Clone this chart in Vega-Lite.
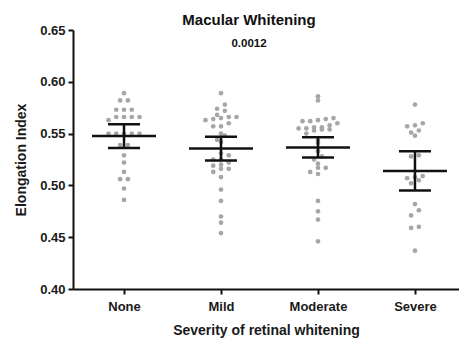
{
  "$schema": "https://vega.github.io/schema/vega-lite/v6.json",
  "width": 386,
  "height": 259,
  "autosize": {"type": "none"},
  "padding": {"left": 73, "top": 30, "right": 0, "bottom": 58},
  "title": {
    "text": "Macular Whitening",
    "subtitle": "0.0012",
    "frame": "group",
    "anchor": "middle",
    "offset": -25,
    "dx": -17,
    "font": "Liberation Sans",
    "fontSize": 15,
    "fontWeight": "bold",
    "color": "#111111",
    "subtitleFont": "Liberation Sans",
    "subtitleFontSize": 11.5,
    "subtitleFontWeight": "bold",
    "subtitleColor": "#111111",
    "subtitlePadding": 10
  },
  "datasets": {
    "points": [
      {"g": "None", "v": 0.589}, {"g": "None", "v": 0.582}, {"g": "None", "v": 0.582},
      {"g": "None", "v": 0.573}, {"g": "None", "v": 0.573}, {"g": "None", "v": 0.573},
      {"g": "None", "v": 0.566}, {"g": "None", "v": 0.566}, {"g": "None", "v": 0.566},
      {"g": "None", "v": 0.566}, {"g": "None", "v": 0.563},
      {"g": "None", "v": 0.550}, {"g": "None", "v": 0.550}, {"g": "None", "v": 0.550},
      {"g": "None", "v": 0.550}, {"g": "None", "v": 0.550},
      {"g": "None", "v": 0.539}, {"g": "None", "v": 0.539}, {"g": "None", "v": 0.529},
      {"g": "None", "v": 0.522}, {"g": "None", "v": 0.513}, {"g": "None", "v": 0.506},
      {"g": "None", "v": 0.506}, {"g": "None", "v": 0.497}, {"g": "None", "v": 0.486},
      {"g": "Mild", "v": 0.589}, {"g": "Mild", "v": 0.578}, {"g": "Mild", "v": 0.574},
      {"g": "Mild", "v": 0.572}, {"g": "Mild", "v": 0.568}, {"g": "Mild", "v": 0.566},
      {"g": "Mild", "v": 0.566}, {"g": "Mild", "v": 0.565}, {"g": "Mild", "v": 0.564},
      {"g": "Mild", "v": 0.563}, {"g": "Mild", "v": 0.560}, {"g": "Mild", "v": 0.557},
      {"g": "Mild", "v": 0.557}, {"g": "Mild", "v": 0.550}, {"g": "Mild", "v": 0.548},
      {"g": "Mild", "v": 0.544}, {"g": "Mild", "v": 0.542}, {"g": "Mild", "v": 0.531},
      {"g": "Mild", "v": 0.529}, {"g": "Mild", "v": 0.525}, {"g": "Mild", "v": 0.525},
      {"g": "Mild", "v": 0.522}, {"g": "Mild", "v": 0.520}, {"g": "Mild", "v": 0.519},
      {"g": "Mild", "v": 0.516}, {"g": "Mild", "v": 0.516}, {"g": "Mild", "v": 0.513},
      {"g": "Mild", "v": 0.508}, {"g": "Mild", "v": 0.496}, {"g": "Mild", "v": 0.485},
      {"g": "Mild", "v": 0.470}, {"g": "Mild", "v": 0.464}, {"g": "Mild", "v": 0.454},
      {"g": "Moderate", "v": 0.586}, {"g": "Moderate", "v": 0.582}, {"g": "Moderate", "v": 0.565},
      {"g": "Moderate", "v": 0.564}, {"g": "Moderate", "v": 0.563}, {"g": "Moderate", "v": 0.562},
      {"g": "Moderate", "v": 0.562}, {"g": "Moderate", "v": 0.560}, {"g": "Moderate", "v": 0.558},
      {"g": "Moderate", "v": 0.556}, {"g": "Moderate", "v": 0.556}, {"g": "Moderate", "v": 0.555},
      {"g": "Moderate", "v": 0.555}, {"g": "Moderate", "v": 0.554}, {"g": "Moderate", "v": 0.554},
      {"g": "Moderate", "v": 0.553}, {"g": "Moderate", "v": 0.550}, {"g": "Moderate", "v": 0.543},
      {"g": "Moderate", "v": 0.541}, {"g": "Moderate", "v": 0.533}, {"g": "Moderate", "v": 0.528},
      {"g": "Moderate", "v": 0.525}, {"g": "Moderate", "v": 0.521}, {"g": "Moderate", "v": 0.517},
      {"g": "Moderate", "v": 0.517}, {"g": "Moderate", "v": 0.513}, {"g": "Moderate", "v": 0.511},
      {"g": "Moderate", "v": 0.485}, {"g": "Moderate", "v": 0.475}, {"g": "Moderate", "v": 0.467},
      {"g": "Moderate", "v": 0.446},
      {"g": "Severe", "v": 0.578}, {"g": "Severe", "v": 0.560}, {"g": "Severe", "v": 0.558},
      {"g": "Severe", "v": 0.557}, {"g": "Severe", "v": 0.553}, {"g": "Severe", "v": 0.551},
      {"g": "Severe", "v": 0.548}, {"g": "Severe", "v": 0.529}, {"g": "Severe", "v": 0.528},
      {"g": "Severe", "v": 0.509}, {"g": "Severe", "v": 0.508}, {"g": "Severe", "v": 0.507},
      {"g": "Severe", "v": 0.505}, {"g": "Severe", "v": 0.502}, {"g": "Severe", "v": 0.482},
      {"g": "Severe", "v": 0.476}, {"g": "Severe", "v": 0.471}, {"g": "Severe", "v": 0.460},
      {"g": "Severe", "v": 0.459}, {"g": "Severe", "v": 0.437}
    ],
    "stats": [
      {"g": "None", "mean": 0.5477, "lo": 0.536, "hi": 0.559},
      {"g": "Mild", "mean": 0.5355, "lo": 0.524, "hi": 0.547},
      {"g": "Moderate", "mean": 0.5365, "lo": 0.527, "hi": 0.5465},
      {"g": "Severe", "mean": 0.514, "lo": 0.495, "hi": 0.533}
    ]
  },
  "layer": [
    {
      "data": {"name": "points"},
      "transform": [
        {"calculate": "indexof(['None','Mild','Moderate','Severe'], datum.g)", "as": "gi"},
        {"calculate": "round(datum.v * 1000 / 6)", "as": "row"},
        {"window": [{"op": "row_number", "as": "rk"}], "groupby": ["g", "row"], "sort": [{"field": "v"}]},
        {"joinaggregate": [{"op": "count", "as": "cnt"}], "groupby": ["g", "row"]},
        {"calculate": "datum.gi + (datum.rk - (datum.cnt + 1) / 2) * 0.08", "as": "xp"}
      ],
      "mark": {"type": "circle", "size": 22, "color": "#a6a6a6", "opacity": 1},
      "encoding": {
        "x": {
          "field": "xp", "type": "quantitative",
          "scale": {"domain": [-0.526, 3.454], "nice": false, "zero": false},
          "axis": {
            "values": [0, 1, 2, 3],
            "labelExpr": "['None','Mild','Moderate','Severe'][datum.value]",
            "title": "Severity of retinal whitening",
            "labelPadding": 6,
            "titlePadding": 10
          }
        },
        "y": {
          "field": "v", "type": "quantitative",
          "scale": {"domain": [0.4, 0.65], "nice": false, "zero": false},
          "axis": {
            "values": [0.4, 0.45, 0.5, 0.55, 0.6, 0.65],
            "format": ".2f",
            "title": "Elongation Index",
            "labelPadding": 3,
            "titlePadding": 11
          }
        }
      }
    },
    {
      "data": {"name": "stats"},
      "transform": [
        {"calculate": "indexof(['None','Mild','Moderate','Severe'], datum.g)", "as": "gi"}
      ],
      "mark": {"type": "rule", "color": "#111111", "strokeWidth": 2.5},
      "encoding": {
        "x": {"field": "gi", "type": "quantitative", "title": "Severity of retinal whitening"},
        "y": {"field": "lo", "type": "quantitative", "title": "Elongation Index"},
        "y2": {"field": "hi"}
      }
    },
    {
      "data": {"name": "stats"},
      "transform": [
        {"calculate": "indexof(['None','Mild','Moderate','Severe'], datum.g)", "as": "gi"}
      ],
      "mark": {"type": "tick", "orient": "horizontal", "size": 64, "thickness": 2.5, "color": "#111111", "opacity": 1},
      "encoding": {
        "x": {"field": "gi", "type": "quantitative", "title": "Severity of retinal whitening"},
        "y": {"field": "mean", "type": "quantitative", "title": "Elongation Index"}
      }
    },
    {
      "data": {"name": "stats"},
      "transform": [
        {"calculate": "indexof(['None','Mild','Moderate','Severe'], datum.g)", "as": "gi"}
      ],
      "mark": {"type": "tick", "orient": "horizontal", "size": 32, "thickness": 2.5, "color": "#111111", "opacity": 1},
      "encoding": {
        "x": {"field": "gi", "type": "quantitative", "title": "Severity of retinal whitening"},
        "y": {"field": "lo", "type": "quantitative", "title": "Elongation Index"}
      }
    },
    {
      "data": {"name": "stats"},
      "transform": [
        {"calculate": "indexof(['None','Mild','Moderate','Severe'], datum.g)", "as": "gi"}
      ],
      "mark": {"type": "tick", "orient": "horizontal", "size": 32, "thickness": 2.5, "color": "#111111", "opacity": 1},
      "encoding": {
        "x": {"field": "gi", "type": "quantitative", "title": "Severity of retinal whitening"},
        "y": {"field": "hi", "type": "quantitative", "title": "Elongation Index"}
      }
    }
  ],
  "config": {
    "view": {"stroke": null},
    "axis": {
      "grid": false,
      "domainColor": "#111111",
      "domainWidth": 2,
      "tickColor": "#111111",
      "tickWidth": 2,
      "tickSize": 5,
      "labelFont": "Liberation Sans",
      "labelFontSize": 13,
      "labelFontWeight": "bold",
      "labelColor": "#1a1a1a",
      "titleFont": "Liberation Sans",
      "titleFontSize": 14,
      "titleFontWeight": "bold",
      "titleColor": "#1a1a1a"
    }
  }
}
